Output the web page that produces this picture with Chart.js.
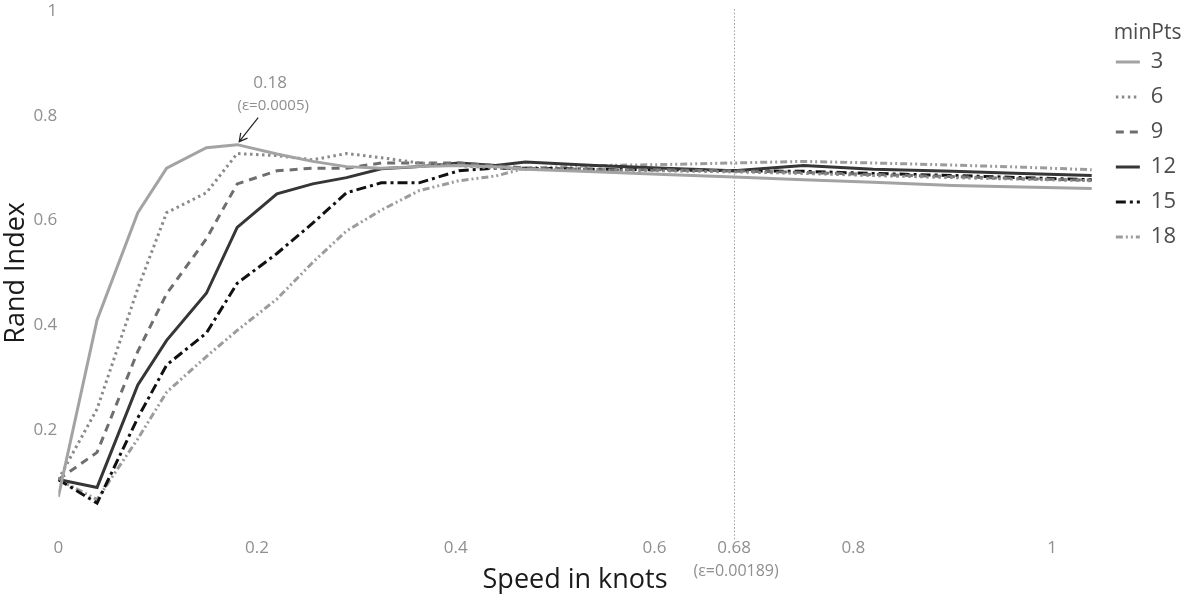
<!DOCTYPE html>
<html>
<head>
<meta charset="utf-8">
<title>Rand Index vs speed</title>
<script src="https://cdn.jsdelivr.net/npm/chart.js@4/dist/chart.umd.min.js"></script>
<style>
  html, body { margin: 0; padding: 0; background: #ffffff; }
  canvas { display: block; }
</style>
</head>
<body>
<canvas id="chart" width="1199" height="594"></canvas>
<script>
// Speed threshold (knots) at which each clustering run was evaluated
const speeds = [0, 0.039, 0.08, 0.109, 0.149, 0.18, 0.22, 0.256, 0.29, 0.325, 0.363, 0.403,
                0.44, 0.47, 0.54, 0.61, 0.68, 0.75, 0.82, 0.9, 0.97, 1.04];

// Rand Index per minPts setting
const randMinPts3  = [0.072, 0.41, 0.615, 0.70, 0.739, 0.745, 0.727, 0.713, 0.703, 0.70, 0.703, 0.705,
                      0.703, 0.698, 0.693, 0.688, 0.683, 0.678, 0.673, 0.667, 0.664, 0.661];
const randMinPts6  = [0.105, 0.24, 0.47, 0.615, 0.653, 0.728, 0.724, 0.716, 0.728, 0.72, 0.71, 0.705,
                      0.70, 0.698, 0.697, 0.695, 0.693, 0.69, 0.686, 0.682, 0.679, 0.676];
const randMinPts9  = [0.105, 0.157, 0.35, 0.46, 0.565, 0.67, 0.695, 0.70, 0.70, 0.71, 0.71, 0.71,
                      0.705, 0.70, 0.697, 0.697, 0.695, 0.692, 0.688, 0.684, 0.68, 0.677];
const randMinPts12 = [0.105, 0.09, 0.286, 0.371, 0.461, 0.587, 0.651, 0.67, 0.682, 0.699, 0.703, 0.71,
                      0.705, 0.712, 0.705, 0.70, 0.695, 0.705, 0.698, 0.694, 0.69, 0.686];
const randMinPts15 = [0.105, 0.06, 0.223, 0.324, 0.385, 0.48, 0.537, 0.595, 0.653, 0.672, 0.672, 0.695,
                      0.70, 0.70, 0.698, 0.697, 0.695, 0.694, 0.69, 0.686, 0.682, 0.678];
const randMinPts18 = [0.105, 0.067, 0.183, 0.272, 0.34, 0.39, 0.45, 0.52, 0.58, 0.62, 0.657, 0.676,
                      0.685, 0.70, 0.705, 0.707, 0.71, 0.713, 0.71, 0.706, 0.702, 0.697];

const minPtsLabels = ['3', '6', '9', '12', '15', '18'];
const seriesValues = [randMinPts3, randMinPts6, randMinPts9, randMinPts12, randMinPts15, randMinPts18];

// Axis ticks
const xTickValues = [0, 0.2, 0.4, 0.6, 0.68, 0.8, 1];
const yTickValues = [0.2, 0.4, 0.6, 0.8, 1];

// Highlighted settings
const peakSpeed = 0.18;
const peakEpsilon = '(\u03b5=0.0005)';
const chosenSpeed = 0.68;
const chosenEpsilon = '(\u03b5=0.00189)';

// Line styles, one per minPts setting
const lineColors = ['#a3a3a3', '#8a8a8a', '#6e6e6e', '#363636', '#111111', '#9c9c9c'];
const lineDashes = [[], [2.5, 3.5], [8, 6], [], [10, 4, 3, 4], [7, 3, 2, 3, 2, 3]];
const lineWidths = [3, 3, 3, 3, 3, 3];

const FONT = "'Open Sans', sans-serif";
Chart.defaults.font.family = FONT;

const datasets = minPtsLabels.map((name, i) => ({
  label: name,
  data: speeds.map((s, k) => ({ x: s, y: seriesValues[i][k] })),
  borderColor: lineColors[i],
  backgroundColor: lineColors[i],
  borderDash: lineDashes[i],
  borderWidth: lineWidths[i],
  pointRadius: 0,
  pointHoverRadius: 0,
  tension: 0,
  fill: false
}));

// Reference line at the chosen speed, plus the peak call-out and epsilon notes
const markers = {
  id: 'markers',
  beforeDatasetsDraw(chart) {
    const { ctx, chartArea, scales: { x } } = chart;
    const vx = Math.round(x.getPixelForValue(chosenSpeed)) + 0.5;
    ctx.save();
    ctx.strokeStyle = '#9d9d9d';
    ctx.lineWidth = 1;
    ctx.setLineDash([1.5, 2]);
    ctx.beginPath();
    ctx.moveTo(vx, chartArea.top - 2);
    ctx.lineTo(vx, chartArea.bottom + 6);
    ctx.stroke();
    ctx.restore();
  },
  afterDraw(chart) {
    const { ctx, chartArea, scales: { x, y } } = chart;
    ctx.save();
    ctx.textAlign = 'center';
    ctx.textBaseline = 'middle';

    // epsilon under the chosen speed tick
    ctx.fillStyle = '#8f8f8f';
    ctx.font = "16px " + FONT;
    ctx.fillText(chosenEpsilon, x.getPixelForValue(chosenSpeed) + 2, chartArea.bottom + 37);

    // peak call-out
    const k = speeds.indexOf(peakSpeed);
    const px = x.getPixelForValue(peakSpeed);
    const py = y.getPixelForValue(randMinPts3[k]);
    ctx.font = "17px " + FONT;
    ctx.fillText(String(peakSpeed), px + 33, py - 61);
    ctx.font = "15px " + FONT;
    ctx.fillText(peakEpsilon, px + 36, py - 39);

    // arrow
    const ax0 = px + 21, ay0 = py - 27, ax1 = px + 2, ay1 = py - 3;
    ctx.strokeStyle = '#222';
    ctx.lineWidth = 1.2;
    ctx.beginPath();
    ctx.moveTo(ax0, ay0);
    ctx.lineTo(ax1, ay1);
    const ang = Math.atan2(ay1 - ay0, ax1 - ax0);
    const head = 9;
    ctx.moveTo(ax1 + head * Math.cos(ang + Math.PI - 0.5), ay1 + head * Math.sin(ang + Math.PI - 0.5));
    ctx.lineTo(ax1, ay1);
    ctx.lineTo(ax1 + head * Math.cos(ang + Math.PI + 0.5), ay1 + head * Math.sin(ang + Math.PI + 0.5));
    ctx.stroke();
    ctx.restore();
  }
};

new Chart(document.getElementById('chart'), {
  type: 'line',
  data: { datasets },
  plugins: [markers],
  options: {
    responsive: false,
    animation: false,
    devicePixelRatio: 1,
    layout: { padding: { top: 0, right: 13, bottom: 0, left: 0 } },
    plugins: {
      tooltip: { enabled: false },
      legend: {
        position: 'right',
        align: 'start',
        title: {
          display: true,
          text: '    minPts',
          position: 'start',
          color: '#4d4d4d',
          font: { family: FONT, size: 21, lineHeight: 0.214 },
          padding: { top: 22.5, bottom: 0 }
        },
        labels: {
          usePointStyle: true,
          pointStyle: 'line',
          pointStyleWidth: 24,
          padding: 24,
          color: '#4d4d4d',
          font: { family: FONT, size: 22, lineHeight: 0.5 },
          generateLabels(chart) {
            return Chart.defaults.plugins.legend.labels.generateLabels(chart).map(item => {
              const ds = chart.data.datasets[item.datasetIndex];
              return Object.assign(item, {
                text: [item.text],
                lineDash: ds.borderDash,
                lineWidth: ds.borderWidth,
                strokeStyle: ds.borderColor,
                fillStyle: ds.borderColor
              });
            });
          }
        }
      }
    },
    scales: {
      x: {
        type: 'linear',
        min: 0,
        max: 1.04,
        grid: { display: false, drawTicks: false },
        border: { display: false },
        afterBuildTicks(scale) {
          scale.ticks = xTickValues.map(v => ({ value: v }));
        },
        ticks: {
          autoSkip: false,
          maxRotation: 0,
          padding: 3,
          color: '#8f8f8f',
          font: { family: FONT, size: 17 },
          callback: v => String(v)
        },
        title: {
          display: true,
          text: 'Speed in knots',
          color: '#1a1a1a',
          font: { family: FONT, size: 27, lineHeight: 1.04 },
          padding: { top: 5, bottom: 0 }
        }
      },
      y: {
        type: 'linear',
        min: 0,
        max: 1,
        grid: { display: false, drawTicks: false },
        border: { display: false },
        afterBuildTicks(scale) {
          scale.ticks = [0].concat(yTickValues).map(v => ({ value: v }));
        },
        ticks: {
          padding: 1,
          color: '#8f8f8f',
          font: { family: FONT, size: 17 },
          callback: v => (v === 0 ? '' : String(v))
        },
        title: {
          display: true,
          text: 'Rand Index',
          color: '#1a1a1a',
          font: { family: FONT, size: 27 },
          padding: { top: 0, bottom: 0 }
        }
      }
    }
  }
});
</script>
</body>
</html>
